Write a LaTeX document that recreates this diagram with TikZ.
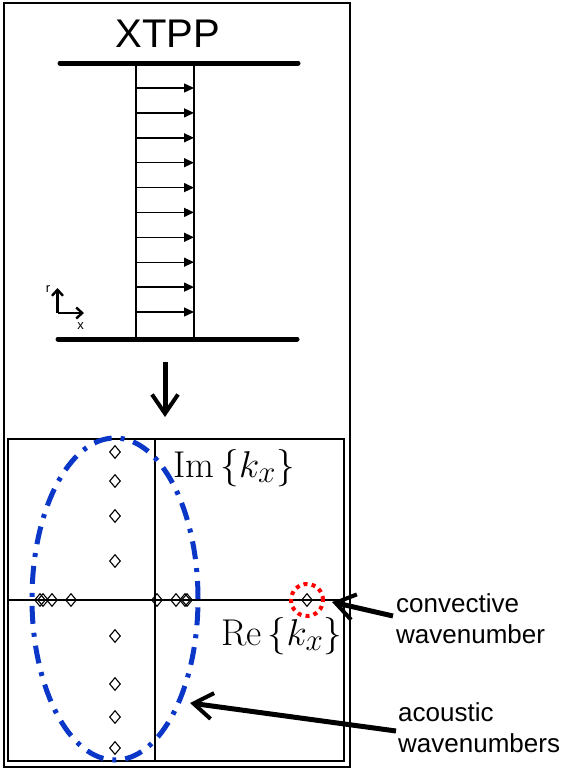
\documentclass[tikz,border=0pt]{standalone}
\usepackage{graphicx}
\usepackage{fontspec}
\setsansfont{Liberation Sans}
\usetikzlibrary{arrows.meta,shapes.geometric}
\definecolor{ellblue}{RGB}{10,55,200}
\newcommand{\biglab}[1]{\scalebox{1.5}{\fontsize{24.88}{30}\selectfont$#1$}}
\begin{document}
\begin{tikzpicture}[x=1pt,y=-1pt,
  wall/.style={line width=5pt,line cap=round},
  chan/.style={line width=1.8pt},
  flow/.style={line width=1.4pt,-{Triangle[length=10pt,width=9pt]}},
  bigarrow/.style={line width=5pt,-{Straight Barb[length=19pt,width=26pt,line width=4pt]}},
  axarrow/.style={line width=2.6pt,-{Straight Barb[length=6pt,width=11pt,line width=2.4pt]}},
  dia/.style={diamond,draw,line width=1.1pt,minimum width=11pt,minimum height=13pt,inner sep=0pt},
  sftext/.style={font=\sffamily\fontsize{26}{31}\selectfont,align=left,inner sep=0pt},
  mathlab/.style={inner sep=0pt}]
\useasboundingbox (0,0) rectangle (576,771);
% frames
\draw[line width=1.2pt] (4,3) rectangle (350,767);
\draw[line width=2pt] (8,439) rectangle (344,761);
% title
\node[font=\sffamily\fontsize{40}{44}\selectfont,inner sep=0pt] (title) at (168,34) {XTPP};
% channel
\coordinate (tw1) at (60,63); \coordinate (tw2) at (298,63);
\coordinate (bw1) at (58,339); \coordinate (bw2) at (297,339);
\draw[wall] (tw1) -- (tw2);
\draw[wall] (bw1) -- (bw2);
\coordinate (cl1) at (136,63); \coordinate (cl2) at (136,339);
\coordinate (cr1) at (194,63); \coordinate (cr2) at (194,339);
\draw[chan] (cl1) -- (cl2);
\draw[chan] (cr1) -- (cr2);
\foreach \y in {88,112.9,137.8,162.7,187.6,212.4,237.3,262.2,287.1,312} {
  \draw[flow] (136,\y) -- (194,\y);
}
% axes icon
\coordinate (ax0) at (57.5,313);
\coordinate (axr) at (57.5,288);
\coordinate (axx) at (84,313);
\draw[axarrow] (ax0) -- (axr);
\draw[axarrow] (ax0) -- (axx);
\node[font=\sffamily\fontsize{13}{14}\selectfont,inner sep=0pt] (rl) at (48,289) {r};
\node[font=\sffamily\fontsize{13}{14}\selectfont,inner sep=0pt] (xl) at (80.5,326) {x};
% down arrow
\coordinate (d1) at (165,362); \coordinate (d2) at (165,417);
\draw[bigarrow] (d1) -- (d2);
% plot axes
\coordinate (h1) at (8,600); \coordinate (h2) at (344,600);
\coordinate (v1) at (155,439); \coordinate (v2) at (155,761);
\draw[line width=1.2pt] (h1) -- (h2);
\draw[line width=1.2pt] (v1) -- (v2);
% ellipse
\draw[ellblue,line width=5pt,dash pattern=on 18pt off 9pt on 4pt off 9pt] (115,599) ellipse [x radius=83pt,y radius=161pt];
% diamonds
\foreach \x [count=\i] in {40,43,52,71,157,176,185,187} {
  \node[dia] (r\i) at (\x,600) {};
}
\foreach \y [count=\i] in {452,481,516,561,636,684,717,748} {
  \node[dia] (m\i) at (115,\y) {};
}
\node[dia] (conv) at (307,600) {};
\node[circle,draw=red,line width=4pt,dash pattern=on 4pt off 4.2pt,minimum size=32pt,inner sep=0pt] (convc) at (307,600) {};
% labels
\node[mathlab,anchor=west] (im) at (173,468) {\biglab{\mathrm{Im}\left\{k_x\right\}}};
\node[mathlab,anchor=west] (re) at (221,636) {\biglab{\mathrm{Re}\left\{k_x\right\}}};
\node[sftext,anchor=west] (convt) at (396,619) {convective\\wavenumber};
\node[sftext,anchor=west] (acout) at (398,728) {acoustic\\wavenumbers};
% pointer arrows
\coordinate (convtip) at (332,602);
\coordinate (acoutip) at (190,703);
\coordinate (convtail) at (393,616);
\coordinate (acoutail) at (396,731);
\draw[bigarrow] (convtail) -- (convtip);
\draw[bigarrow] (acoutail) -- (acoutip);
\end{tikzpicture}
\end{document}
